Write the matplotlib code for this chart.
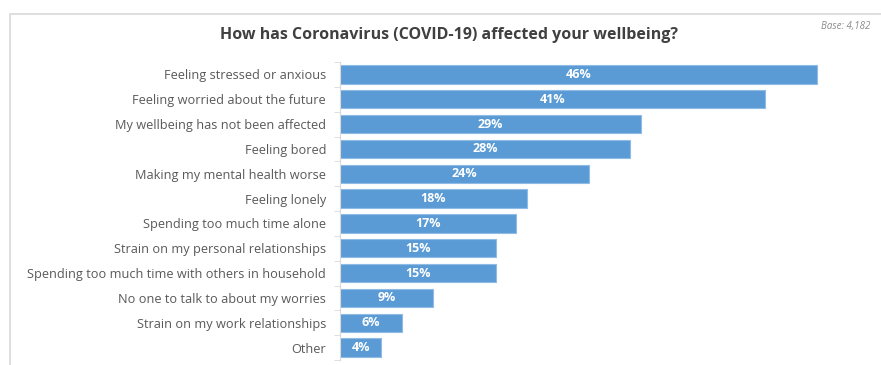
import matplotlib.pyplot as plt
from matplotlib.patches import Rectangle

categories = ['Feeling stressed or anxious', 'Feeling worried about the future',
              'My wellbeing has not been affected', 'Feeling bored',
              'Making my mental health worse', 'Feeling lonely',
              'Spending too much time alone', 'Strain on my personal relationships',
              'Spending too much time with others in household',
              'No one to talk to about my worries', 'Strain on my work relationships',
              'Other']
values = [46, 41, 29, 28, 24, 18, 17, 15, 15, 9, 6, 4]
labels = ['46%', '41%', '29%', '28%', '24%', '18%', '17%', '15%', '15%', '9%', '6%', '4%']

plt.rcParams['font.family'] = ['Open Sans', 'DejaVu Sans']

fig = plt.figure(figsize=(8.81, 3.65), dpi=100)
W, H = 881, 365

# chart frame
fig.patches.append(Rectangle((10 / W, -0.1), 1.0, (H - 14) / H + 0.1, transform=fig.transFigure,
                             fill=False, edgecolor='#d9d9d9', linewidth=1.2))

ax = fig.add_axes([340 / W, 1 - 360 / H, (860 - 340) / W, (360 - 62) / H])
y = list(range(len(categories)))
ax.barh(y, values, height=0.74, color='#5b9bd5', edgecolor='#8fbce6', linewidth=0.8)
for yi, v, lab in zip(y, values, labels):
    ax.text(v / 2, yi, lab, ha='center', va='center', color='white',
            fontsize=9, fontweight='bold')

ax.set_ylim(len(categories) - 0.5, -0.5)
ax.set_xlim(0, 46 * (860 - 340) / (817 - 340))
ax.set_yticks(y)
ax.set_yticklabels(categories, fontsize=9.2, color='#595959')
ax.set_yticks([i + 0.5 for i in range(-1, len(categories))], minor=True)
ax.tick_params(axis='y', which='major', length=0, pad=10)
ax.tick_params(axis='y', which='minor', length=4, color='#d9d9d9')
ax.set_xticks([])
for s in ['top', 'right', 'bottom']:
    ax.spines[s].set_visible(False)
ax.spines['left'].set_color('#d9d9d9')

fig.text(449 / W, 1 - 35 / H, 'How has Coronavirus (COVID-19) affected your wellbeing?',
         ha='center', va='center', fontsize=11.5, fontweight='bold', color='#404040')
fig.text(870 / W, 1 - 27 / H, 'Base: 4,182', ha='right', va='center', fontsize=7,
         style='italic', color='#8c8c8c')

fig.savefig('out.png', dpi=100)
